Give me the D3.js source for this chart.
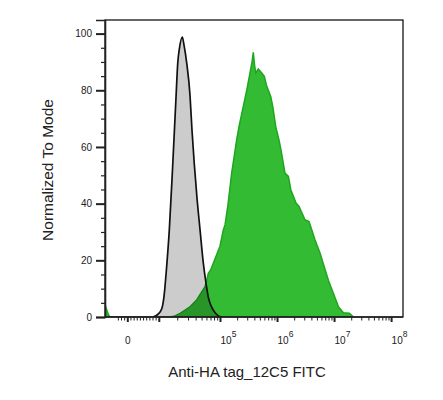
<!DOCTYPE html>
<html>
<head>
<meta charset="utf-8">
<script src="https://cdn.jsdelivr.net/npm/d3@7"></script>
<style>
  html, body { margin: 0; padding: 0; background: #fff; }
  text { font-family: Arial, "Liberation Sans", sans-serif; fill: #222; }
</style>
</head>
<body>
<svg id="chart" width="443" height="400"></svg>
<script>
// isotype control (grey, black outline) - fluorescence / % of mode
var controlX = [8000, 9600, 1.1e4, 1.19e4, 1.31e4, 1.46e4, 1.66e4, 1.88e4, 2.0e4, 2.14e4,
  2.38e4, 2.53e4, 2.81e4, 3.18e4, 3.42e4, 3.73e4, 4.13e4, 4.62e4, 5.24e4, 5.79e4,
  6.32e4, 7.0e4, 7.84e4, 9.1e4, 1.06e5];
var controlY = [0, 1, 3, 7, 17, 31, 54, 78, 89.5, 95,
  98.8, 96, 89.5, 78, 66, 54, 42, 31, 19, 12,
  7, 4, 2, 0.5, 0];

// Anti-HA tag 12C5 FITC (green)
var stainedX = [-7200, -6700, -6200, -5700, 1.5e4, 1.8e4, 2.18e4, 2.6e4, 3.17e4, 4.08e4,
  4.93e4, 5.58e4, 5.96e4, 6.32e4, 6.9e4, 8.3e4, 9.8e4, 1.12e5, 1.2e5, 1.34e5,
  1.57e5, 1.92e5, 2.11e5, 2.51e5, 2.88e5, 3.29e5, 3.57e5, 3.76e5, 3.95e5, 4.15e5,
  4.6e5, 5.28e5, 5.87e5, 6.47e5, 7.6e5, 8.24e5, 9.3e5, 1.06e6, 1.15e6, 1.35e6,
  1.55e6, 1.71e6, 2.11e6, 2.38e6, 3.03e6, 3.57e6, 4.55e6, 5.57e6, 7.79e6, 9.53e6,
  1.17e7, 1.43e7, 1.82e7, 2.14e7];
var stainedY = [4.2, 2.6, 1.0, 0, 0, 0.4, 1.3, 2.3, 3.6, 6,
  8.9, 10.7, 13, 15.4, 16.6, 21, 25, 30.7, 32.5, 39,
  50.8, 62.5, 67.2, 74.3, 80, 86.1, 90, 93.4, 89, 86.1,
  87.5, 86.1, 84.9, 81.4, 77.8, 74.3, 67.2, 62.5, 59, 50.8,
  49.6, 44.9, 40.2, 39, 34.3, 33.7, 27.2, 22.5, 13, 8.4,
  3.6, 1.5, 1.3, 0];

// tick labels
var yTickValues = [0, 20, 40, 60, 80, 100];
var xLabelValues = [0, 1e5, 1e6, 1e7, 1e8];
var xLabelExp = [null, 5, 6, 7, 8];
var xTitle = "Anti-HA tag_12C5 FITC";
var yTitle = "Normalized To Mode";

var L = 105, R = 403, T = 20, B = 317;

// linear around zero, log above 10^4 (biex-like display)
function biex(v) {
  return v <= 1e4 ? v / 1e4 : 1 + Math.log10(v / 1e4);
}

var x = d3.scaleLinear()
  .domain([-0.724, 0, 1, 2, 5.2])
  .range([L, 127.8, 159.3, 220.5, R]);
var y = d3.scaleLinear().domain([0, 104.8]).range([B, T]);
var px = function(v) { return x(biex(v)); };

var svg = d3.select("#chart");

var clip = svg.append("clipPath").attr("id", "plot")
  .append("rect").attr("x", L).attr("y", T).attr("width", R - L).attr("height", B - T);

var plot = svg.append("g").attr("clip-path", "url(#plot)");

var stained = d3.range(stainedX.length).map(i => [stainedX[i], stainedY[i]]);
var control = d3.range(controlX.length).map(i => [controlX[i], controlY[i]]);

var area = d3.area()
  .x(d => px(d[0]))
  .y0(y(0))
  .y1(d => y(d[1]));
var line = d3.line()
  .x(d => px(d[0]))
  .y(d => y(d[1]));

plot.append("path").datum(stained)
  .attr("fill", "#33bb33")
  .attr("d", area.curve(d3.curveLinear));
plot.append("path").datum(stained)
  .attr("fill", "none").attr("stroke", "#1fa61f").attr("stroke-width", 1.5)
  .attr("d", line.curve(d3.curveLinear));

// control drawn as a darkening layer so the overlap turns dark green
plot.append("path").datum(control)
  .attr("fill", "#000").attr("fill-opacity", 0.2)
  .attr("d", area.curve(d3.curveMonotoneX));
plot.append("path").datum(control)
  .attr("fill", "none").attr("stroke", "#111").attr("stroke-width", 1.7)
  .attr("d", line.curve(d3.curveMonotoneX));

// frame
svg.append("rect")
  .attr("x", L).attr("y", T).attr("width", R - L).attr("height", B - T)
  .attr("fill", "none").attr("stroke", "#000").attr("stroke-width", 1.2);

// y axis
svg.append("g")
  .attr("transform", `translate(${L},0)`)
  .call(d3.axisLeft(y).tickValues(d3.range(0, 105, 5).filter(v => v % 20)).tickSize(4).tickFormat(""))
  .call(g => g.select(".domain").remove())
  .call(g => g.selectAll("line").attr("stroke", "#222").attr("stroke-width", 1.2));

svg.append("g")
  .attr("transform", `translate(${L},0)`)
  .call(d3.axisLeft(y).tickValues(yTickValues).tickSize(9).tickPadding(4))
  .call(g => g.select(".domain").attr("stroke", "#222").attr("stroke-width", 1.6))
  .call(g => g.selectAll("line").attr("stroke", "#222").attr("stroke-width", 2))
  .call(g => g.selectAll("text").attr("font-size", 10).attr("fill", "#222")
    .attr("font-family", "Arial, 'Liberation Sans', sans-serif"));

// x axis ticks
var xMinor = d3.range(-3000, 10000, 1000).filter(v => v !== 0);
[1e4, 1e5, 1e6, 1e7].forEach(function(dec) {
  for (var k = 2; k <= 9; k++) xMinor.push(k * dec);
});
var xMajor = [0, 1e4, 1e5, 1e6, 1e7, 1e8];

var xa = svg.append("g");
xa.append("line")
  .attr("x1", L).attr("x2", R).attr("y1", B).attr("y2", B)
  .attr("stroke", "#222").attr("stroke-width", 1.6);
xa.selectAll(".minor").data(xMinor).join("line")
  .attr("x1", d => px(d)).attr("x2", d => px(d))
  .attr("y1", B).attr("y2", B + 3.5)
  .attr("stroke", "#222").attr("stroke-width", 1);
xa.selectAll(".major").data(xMajor).join("line")
  .attr("x1", d => px(d)).attr("x2", d => px(d))
  .attr("y1", B).attr("y2", B + 5)
  .attr("stroke", "#222").attr("stroke-width", 2);

xLabelValues.forEach(function(v, i) {
  var t = svg.append("text").attr("y", 344).attr("font-size", 10);
  if (xLabelExp[i] === null) {
    t.attr("x", px(v)).attr("text-anchor", "middle").text("0");
  } else {
    t.attr("x", px(v));
    t.append("tspan").text("10");
    t.append("tspan").attr("dy", -7).attr("font-size", 8.5).text(xLabelExp[i]);
  }
});

// titles
svg.append("text")
  .attr("x", 247).attr("y", 377)
  .attr("text-anchor", "middle").attr("font-size", 15)
  .text(xTitle);

svg.append("text")
  .attr("transform", "translate(53,170) rotate(-90)")
  .attr("text-anchor", "middle").attr("font-size", 15.5)
  .text(yTitle);
</script>
</body>
</html>
